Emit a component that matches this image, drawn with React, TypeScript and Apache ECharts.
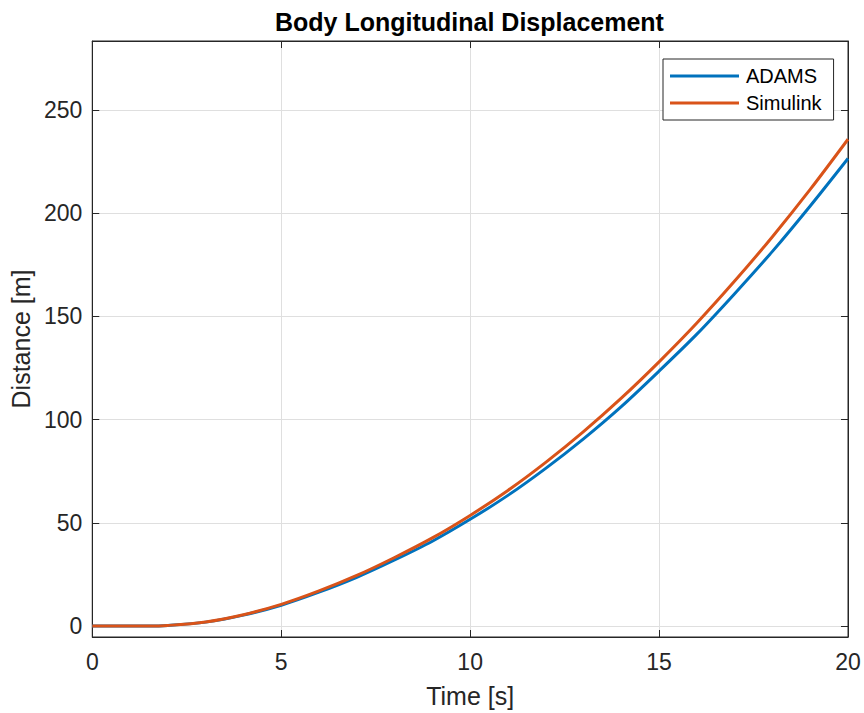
import React, { useEffect, useRef } from "react";
import * as echarts from "echarts";

const timeS = [0, 1, 1.5, 2, 3, 4, 5, 6, 7, 8, 9, 10, 11, 12, 13, 14, 15, 16, 17, 18, 19, 20];
const adams = [0, 0, 0, 0.3, 1.9, 5.3, 10.1, 16.4, 23.6, 32.0, 41.1, 51.7, 63.3, 76.4, 90.7, 106.3, 123.5, 141.4, 161.0, 181.5, 203.5, 226.5];
const simulink = [0, 0, 0, 0.3, 2, 5.5, 10.5, 17, 24.5, 33.2, 42.7, 53.6, 65.7, 79.3, 94.2, 110.4, 128, 146.8, 167.1, 188.6, 211.5, 235.8];
const seriesNames = ["ADAMS", "Simulink"];
const colors = ["#0072BD", "#D95319"];

const FONT = "'Liberation Sans', Arial, Helvetica, sans-serif";
const AX = "#262626";

export default function App() {
  const ref = useRef<HTMLDivElement>(null);
  useEffect(() => {
    document.body.style.margin = "0";
    const chart = echarts.init(ref.current!, null, { renderer: "svg" });
    const hideOdd = (v: number) => (Math.abs(v % 50) < 1e-6 ? String(v) : "");
    const option = {
      animation: false,
      backgroundColor: "#ffffff",
      textStyle: { fontFamily: FONT },
      title: {
        text: "Body Longitudinal Displacement",
        left: 275,
        top: 9,
        padding: 0,
        textStyle: { fontFamily: FONT, fontSize: 25, fontWeight: "bold", color: "#000000" },
      },
      legend: {
        orient: "vertical",
        left: 663,
        top: 59,
        padding: [7, 12, 7, 7],
        backgroundColor: "#ffffff",
        borderColor: AX,
        borderWidth: 1,
        borderRadius: 0,
        icon: "rect",
        itemWidth: 69,
        itemHeight: 3,
        itemGap: 7,
        data: seriesNames,
        textStyle: { fontFamily: FONT, fontSize: 20, color: "#000000", lineHeight: 20, padding: [0, 0, 0, 2] },
      },
      grid: {
        left: 92,
        top: 41,
        right: 16,
        bottom: 76,
        show: true,
        borderColor: AX,
        borderWidth: 1,
        backgroundColor: "#ffffff",
      },
      xAxis: [
        {
          type: "value",
          min: 0,
          max: 20,
          interval: 5,
          name: "Time [s]",
          nameLocation: "middle",
          nameGap: 46,
          nameTextStyle: { fontFamily: FONT, fontSize: 25, color: AX },
          axisLine: { show: true, onZero: false, lineStyle: { color: AX, width: 1 } },
          axisTick: { show: true, inside: true, length: 7, lineStyle: { color: AX } },
          axisLabel: { fontFamily: FONT, fontSize: 23, color: AX, margin: 13 },
          splitLine: { show: true, lineStyle: { color: "#dfdfdf", width: 1 } },
        },
        {
          type: "value",
          position: "top",
          min: 0,
          max: 20,
          interval: 5,
          axisLine: { show: true, onZero: false, lineStyle: { color: AX, width: 1 } },
          axisTick: { show: true, inside: true, length: 7, lineStyle: { color: AX } },
          axisLabel: { show: false },
          splitLine: { show: false },
        },
      ],
      yAxis: [
        {
          type: "value",
          min: -5.3,
          max: 283.4,
          splitNumber: 5,
          name: "Distance [m]",
          nameLocation: "middle",
          nameGap: 57,
          nameTextStyle: { fontFamily: FONT, fontSize: 25, color: AX },
          axisLine: { show: true, onZero: false, lineStyle: { color: AX, width: 1 } },
          axisTick: { show: true, inside: true, length: 7, lineStyle: { color: AX } },
          axisLabel: { fontFamily: FONT, fontSize: 23, color: AX, margin: 10, showMinLabel: false, showMaxLabel: false, formatter: hideOdd },
          splitLine: { show: true, lineStyle: { color: "#dfdfdf", width: 1 } },
        },
        {
          type: "value",
          position: "right",
          min: -5.3,
          max: 283.4,
          splitNumber: 5,
          axisLine: { show: true, onZero: false, lineStyle: { color: AX, width: 1 } },
          axisTick: { show: true, inside: true, length: 7, lineStyle: { color: AX } },
          axisLabel: { show: false },
          splitLine: { show: false },
        },
      ],
      series: [
        {
          name: seriesNames[0],
          type: "line",
          data: timeS.map((t, i) => [t, adams[i]]),
          smooth: 0.3,
          showSymbol: false,
          symbol: "none",
          lineStyle: { color: colors[0], width: 3 },
          itemStyle: { color: colors[0] },
          z: 3,
        },
        {
          name: seriesNames[1],
          type: "line",
          data: timeS.map((t, i) => [t, simulink[i]]),
          smooth: 0.3,
          showSymbol: false,
          symbol: "none",
          lineStyle: { color: colors[1], width: 3 },
          itemStyle: { color: colors[1] },
          z: 4,
        },
      ],
    };
    chart.setOption(option as any);
    return () => chart.dispose();
  }, []);
  return <div ref={ref} style={{ position: "fixed", left: 0, top: 0, width: 864, height: 713 }} />;
}
